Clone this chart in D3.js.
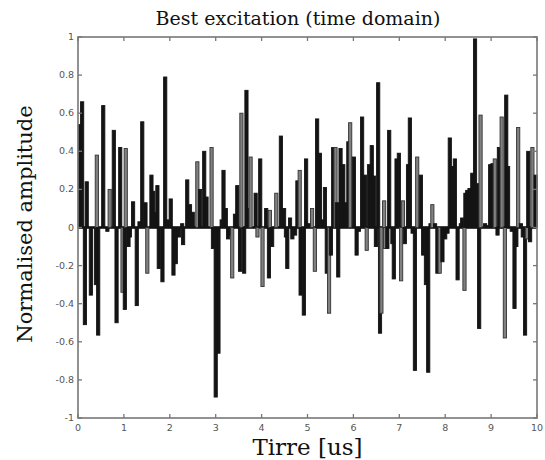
<!DOCTYPE html>
<html><head><meta charset="utf-8">
<script src="https://cdn.jsdelivr.net/npm/d3@7"></script>
<style>body{margin:0;background:#fff}</style>
</head><body><svg id="c" width="545" height="460"></svg>
<script>
// time (us) and normalised amplitude of each pulse
const times = [0.04,0.09,0.15,0.19,0.28,0.39,0.41,0.44,0.55,0.64,0.69,0.78,0.84,0.92,0.97,1.02,1.04,1.10,1.13,1.20,1.28,1.34,1.40,1.47,1.51,1.60,1.64,1.67,1.73,1.76,1.84,1.90,1.95,2.02,2.08,2.13,2.20,2.27,2.29,2.38,2.44,2.50,
2.60,2.66,2.75,2.80,2.91,2.94,3.00,3.06,3.13,3.17,3.22,3.27,3.33,3.36,3.42,3.47,3.53,3.56,3.62,3.67,3.73,3.76,3.87,3.91,3.97,4.02,4.10,4.16,4.18,4.23,4.32,4.42,4.49,4.53,4.56,4.62,4.67,4.73,4.78,4.83,4.85,4.92,4.97,
5.03,5.10,5.16,5.21,5.27,5.32,5.38,5.42,5.47,5.51,5.56,5.61,5.64,5.67,5.72,5.78,5.83,5.89,5.93,6.01,6.07,6.12,6.19,6.25,6.29,6.34,6.40,6.45,6.49,6.54,6.58,6.61,6.67,6.69,6.74,6.78,6.85,6.88,6.94,6.99,7.04,7.08,7.12,7.19,7.23,7.29,7.34,7.39,
7.47,7.52,7.58,7.63,7.68,7.72,7.78,7.83,7.88,7.94,8.00,8.05,8.10,8.15,8.21,8.27,8.34,8.37,8.42,8.44,8.48,8.53,8.59,8.65,8.70,8.74,8.77,8.87,8.92,8.98,9.03,9.08,9.14,9.17,9.23,9.30,9.33,9.37,9.45,9.51,9.55,9.59,9.65,9.69,9.74,9.78,9.81,9.85,9.90,9.97];
const amplitudes = [0.54,0.66,-0.51,0.24,-0.355,-0.30,0.38,-0.565,0.64,-0.02,0.20,0.51,-0.50,0.42,-0.34,-0.43,0.415,-0.10,-0.05,0.135,-0.41,0.03,0.555,0.13,-0.24,0.275,0.19,0.08,0.22,-0.215,-0.285,0.79,0.04,0.15,-0.25,-0.19,-0.05,0.02,-0.09,0.25,0.12,0.08,
0.345,0.20,0.40,0.16,0.42,-0.11,-0.89,-0.66,0.04,0.30,0.10,-0.06,-0.04,-0.265,0.07,0.22,-0.23,0.60,-0.24,0.72,0.10,0.37,0.18,-0.05,0.36,-0.31,0.10,-0.265,0.09,-0.10,0.18,0.48,0.10,-0.05,-0.215,0.05,-0.06,-0.04,0.245,0.30,-0.355,-0.46,0.36,
0.02,0.10,-0.23,0.57,0.39,0.04,0.21,-0.24,-0.45,-0.145,0.42,0.42,0.13,-0.26,0.415,0.33,0.13,0.45,0.55,0.37,-0.145,-0.02,0.58,0.275,-0.12,0.33,0.43,0.27,-0.10,0.76,-0.555,-0.45,0.14,-0.11,-0.11,0.51,-0.085,-0.27,0.36,0.39,-0.28,0.14,-0.085,0.33,0.575,-0.03,-0.75,0.37,
0.275,-0.145,-0.30,-0.76,0.02,0.12,0.02,-0.24,-0.24,-0.18,-0.06,-0.03,0.47,0.32,0.36,-0.275,0.02,0.05,-0.33,0.18,0.195,0.205,0.285,0.99,0.23,-0.53,0.59,0.02,0.01,0.33,0.335,0.36,-0.04,0.42,0.58,-0.58,0.695,0.32,-0.02,-0.425,-0.10,0.525,0.02,-0.05,-0.565,-0.06,0.40,-0.075,0.42,0.275];
// pulses drawn in the lighter gray shade
const grayTimes = [0.41,0.69,0.97,1.04,1.51,2.60,2.91,3.36,3.56,3.76,3.91,4.02,4.18,4.32,4.83,5.10,5.16,5.47,5.61,5.93,6.29,6.61,6.67,6.69,7.04,7.08,7.39,7.72,7.88,8.42,8.77,9.08,9.23,9.30,9.59,9.78,9.90];
const xTicks = [0,1,2,3,4,5,6,7,8,9,10];
const yTicks = [-1,-0.8,-0.6,-0.4,-0.2,0,0.2,0.4,0.6,0.8,1];
const title = "Best excitation (time domain)";
const xLabel = "Tirre [us]";
const yLabel = "Normalised amplitude";

const L=78,R=537,T=37,B=418;
const svg=d3.select("#c");
const x=d3.scaleLinear().domain([0,10]).range([L,R]);
const y=d3.scaleLinear().domain([-1,1]).range([B,T]);

const graySet=new Set(grayTimes);
const data=times.map((t,i)=>({t,v:amplitudes[i],g:graySet.has(t)}));

svg.append("line").attr("x1",x(0)).attr("x2",x(10)).attr("y1",y(0)).attr("y2",y(0))
  .attr("stroke","#000").attr("stroke-width",2.5);

const bw=3.2;
svg.append("g").selectAll("rect").data(data).join("rect")
  .attr("x",d=>x(d.t)-bw/2).attr("width",bw)
  .attr("y",d=>Math.min(y(d.v),y(0))).attr("height",d=>Math.abs(y(d.v)-y(0)))
  .attr("fill",d=>d.g?"#808080":"#141414")
  .attr("stroke",d=>d.g?"#333":"#141414").attr("stroke-width",0.9);

svg.append("rect").attr("x",L).attr("y",T).attr("width",R-L).attr("height",B-T)
  .attr("fill","none").attr("stroke","#777").attr("stroke-width",1.6);

const tk=svg.append("g").attr("stroke","#777").attr("stroke-width",1.3);
xTicks.forEach(v=>{
  tk.append("line").attr("x1",x(v)).attr("x2",x(v)).attr("y1",B).attr("y2",B-4);
  tk.append("line").attr("x1",x(v)).attr("x2",x(v)).attr("y1",T).attr("y2",T+4);
});
yTicks.forEach(v=>{
  tk.append("line").attr("x1",L).attr("x2",L+4).attr("y1",y(v)).attr("y2",y(v));
  tk.append("line").attr("x1",R).attr("x2",R-4).attr("y1",y(v)).attr("y2",y(v));
});

const lab=svg.append("g").attr("font-family","'DejaVu Sans',sans-serif").attr("font-size",9.5).attr("fill","#555");
xTicks.forEach(v=>{
  lab.append("text").attr("x",x(v)).attr("y",B+13).attr("text-anchor","middle").text(v);
});
yTicks.forEach(v=>{
  lab.append("text").attr("x",L-4).attr("y",y(v)+3).attr("text-anchor","end").text(v);
});

svg.append("text").attr("x",298).attr("y",25).attr("text-anchor","middle")
  .attr("font-family","'DejaVu Serif',serif").attr("font-size",19).attr("fill","#111").text(title);
svg.append("text").attr("x",(L+R)/2).attr("y",455).attr("text-anchor","middle")
  .attr("font-family","'DejaVu Serif',serif").attr("font-size",23).attr("fill","#111").text(xLabel);
svg.append("text").attr("transform",`translate(32,224) rotate(-90)`).attr("text-anchor","middle")
  .attr("font-family","'DejaVu Serif',serif").attr("font-size",21).attr("fill","#111").text(yLabel);
</script></body></html>
